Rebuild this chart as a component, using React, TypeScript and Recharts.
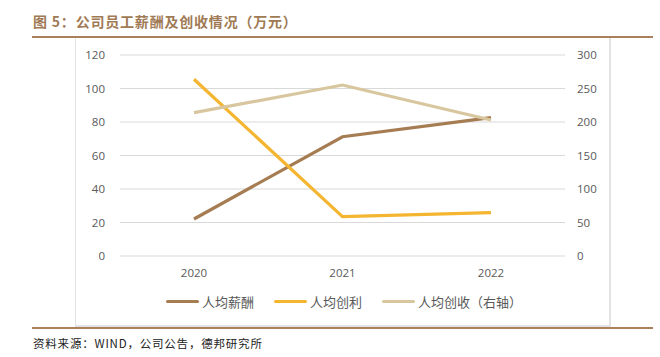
import { LineChart, Line, XAxis, YAxis, CartesianGrid, Legend } from 'recharts';

const years = ['2020', '2021', '2022'];
const pay = [22.1, 71.2, 82.6]; // 人均薪酬
const profit = [105.5, 23.5, 25.9]; // 人均创利
const revenue = [213.9, 255.2, 203]; // 人均创收（右轴）

const leftTicks = [0, 20, 40, 60, 80, 100, 120];
const rightTicks = [0, 50, 100, 150, 200, 250, 300];

const data = years.map((year, i) => ({
	year,
	pay: pay[i],
	profit: profit[i],
	revenue: revenue[i],
}));

const BROWN = '#a98059';
const TITLE = '#a07a55';
const tickStyle = { fontSize: 11.5, fill: '#595959', fontFamily: 'Open Sans, sans-serif' };
const cjk = '"Noto Sans CJK SC", sans-serif';

const series = [
	{ key: 'pay', name: '人均薪酬', color: '#a67c52', axis: 'left' },
	{ key: 'profit', name: '人均创利', color: '#f4b531', axis: 'left' },
	{ key: 'revenue', name: '人均创收（右轴）', color: '#d8c69f', axis: 'right' },
];

const LegendContent = () => (
	<div style={{ display: 'flex', justifyContent: 'center', gap: 20, fontFamily: cjk, fontSize: 13, color: '#595959', paddingLeft: 4 }}>
		{series.map((s) => (
			<div key={s.key} style={{ display: 'flex', alignItems: 'center' }}>
				<span style={{ display: 'inline-block', width: 33, height: 3.5, borderRadius: 2, background: s.color, marginRight: 3 }} />
				<span>{s.name}</span>
			</div>
		))}
	</div>
);

export default function App() {
	return (
		<div style={{ position: 'absolute', left: 0, top: 0, width: 660, height: 357, background: '#fff' }}>
			<div style={{ position: 'absolute', left: 33, top: 11, fontFamily: cjk, fontWeight: 700, fontSize: 14, color: TITLE, letterSpacing: 0.8 }}>
				图 5：公司员工薪酬及创收情况（万元）
			</div>
			<div style={{ position: 'absolute', left: 32, top: 36, width: 621, height: 2, background: BROWN }} />
			<div style={{ position: 'absolute', left: 75, top: 38, width: 533, height: 287, borderLeft: '1px solid #e3e3e3', borderRight: '2px solid #e3e3e3', borderBottom: '2px solid #e3e3e3' }} />
			<div style={{ position: 'absolute', left: 75, top: 37 }}>
				<LineChart width={534} height={288} data={data} margin={{ top: 18, right: 0, left: 0, bottom: 13 }}>
					<CartesianGrid vertical={false} stroke='#d9d9d9' strokeWidth={1} yAxisId='left' />
					<XAxis dataKey='year' axisLine={false} tickLine={false} tickSize={0} tickMargin={13} height={36} tick={tickStyle} padding={{ left: 74, right: 74 }} />
					<YAxis yAxisId='left' orientation='left' domain={[0, 120]} ticks={leftTicks} width={45} axisLine={false} tickLine={false} tickSize={0} tickMargin={15} tick={tickStyle} />
					<YAxis yAxisId='right' orientation='right' domain={[0, 300]} ticks={rightTicks} width={44} axisLine={false} tickLine={false} tickSize={0} tickMargin={12} tick={tickStyle} />
					<Legend verticalAlign='bottom' height={20} content={<LegendContent />} />
					{series.map((s) => (
						<Line
							key={s.key}
							yAxisId={s.axis}
							type='linear'
							dataKey={s.key}
							name={s.name}
							stroke={s.color}
							strokeWidth={3.2}
							dot={false}
							activeDot={false}
							isAnimationActive={false}
						/>
					))}
				</LineChart>
			</div>
			<div style={{ position: 'absolute', left: 32, top: 327, width: 621, height: 2, background: BROWN }} />
			<div style={{ position: 'absolute', left: 33, top: 335, fontFamily: cjk, fontSize: 11.5, color: '#222', letterSpacing: 0.8 }}>
				资料来源：WIND，公司公告，德邦研究所
			</div>
		</div>
	);
}
